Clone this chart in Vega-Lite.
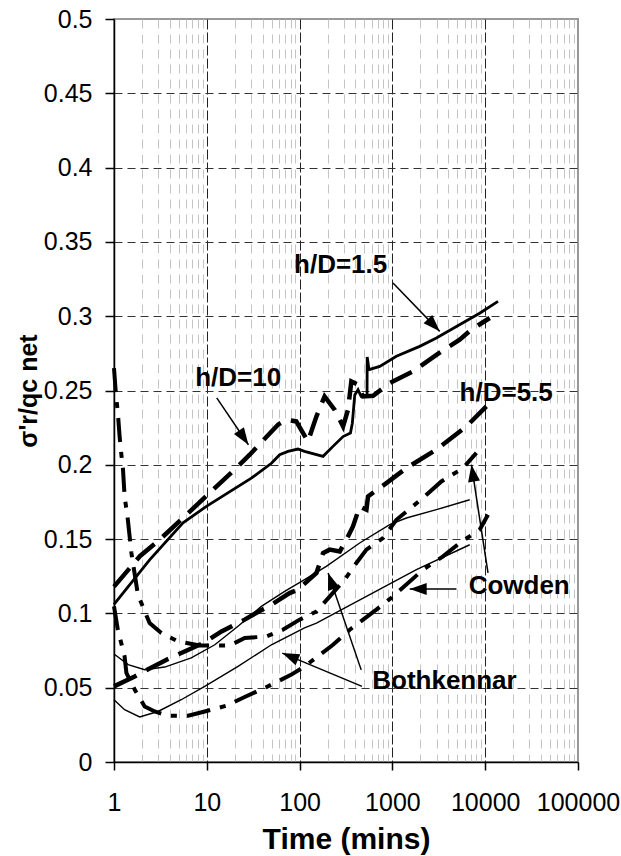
{
  "$schema": "https://vega.github.io/schema/vega-lite/v6.json",
  "width": 464,
  "height": 743,
  "autosize": {"type": "none"},
  "padding": {"left": 114, "top": 19, "right": 43, "bottom": 94},
  "background": "white",
  "config": {
    "font": "Liberation Sans",
    "view": {"stroke": "#999999", "strokeWidth": 2}
  },
  "datasets": {
    "curves": [
      {"s": "A", "t": 1, "v": 0.106}, {"s": "A", "t": 2.42, "v": 0.136}, {"s": "A", "t": 5.54, "v": 0.161}, {"s": "A", "t": 9.9, "v": 0.172},
      {"s": "A", "t": 30.2, "v": 0.191}, {"s": "A", "t": 49.7, "v": 0.201}, {"s": "A", "t": 61, "v": 0.2068}, {"s": "A", "t": 75, "v": 0.209},
      {"s": "A", "t": 96, "v": 0.2106}, {"s": "A", "t": 113, "v": 0.209}, {"s": "A", "t": 179, "v": 0.2057}, {"s": "A", "t": 229, "v": 0.2124},
      {"s": "A", "t": 294, "v": 0.219}, {"s": "A", "t": 353, "v": 0.2214}, {"s": "A", "t": 370, "v": 0.228}, {"s": "A", "t": 393, "v": 0.247},
      {"s": "A", "t": 426, "v": 0.2505}, {"s": "A", "t": 460, "v": 0.246}, {"s": "A", "t": 533, "v": 0.246}, {"s": "A", "t": 535, "v": 0.2725},
      {"s": "A", "t": 560, "v": 0.264}, {"s": "A", "t": 730, "v": 0.2662}, {"s": "A", "t": 1104, "v": 0.273}, {"s": "A", "t": 1968, "v": 0.2797},
      {"s": "A", "t": 2980, "v": 0.2853}, {"s": "A", "t": 4900, "v": 0.2931}, {"s": "A", "t": 8710, "v": 0.302}, {"s": "A", "t": 13740, "v": 0.31},

      {"s": "B", "t": 1, "v": 0.118}, {"s": "B", "t": 1.9, "v": 0.1385}, {"s": "B", "t": 3.1, "v": 0.1496}, {"s": "B", "t": 5.78, "v": 0.1653},
      {"s": "B", "t": 21.7, "v": 0.199}, {"s": "B", "t": 29, "v": 0.2068}, {"s": "B", "t": 58.5, "v": 0.227}, {"s": "B", "t": 72, "v": 0.2303},
      {"s": "B", "t": 92, "v": 0.2292}, {"s": "B", "t": 123, "v": 0.2157}, {"s": "B", "t": 152, "v": 0.2326}, {"s": "B", "t": 186, "v": 0.246},
      {"s": "B", "t": 239, "v": 0.237}, {"s": "B", "t": 294, "v": 0.2258}, {"s": "B", "t": 332, "v": 0.237}, {"s": "B", "t": 361, "v": 0.2561},
      {"s": "B", "t": 426, "v": 0.254}, {"s": "B", "t": 482, "v": 0.246}, {"s": "B", "t": 620, "v": 0.2465}, {"s": "B", "t": 935, "v": 0.255},
      {"s": "B", "t": 1667, "v": 0.2628}, {"s": "B", "t": 2980, "v": 0.274}, {"s": "B", "t": 5310, "v": 0.2842}, {"s": "B", "t": 7100, "v": 0.291},
      {"s": "B", "t": 11190, "v": 0.2988},

      {"s": "C", "t": 1, "v": 0.0509}, {"s": "C", "t": 1.67, "v": 0.0576}, {"s": "C", "t": 3.82, "v": 0.0693}, {"s": "C", "t": 9.5, "v": 0.0805},
      {"s": "C", "t": 14.4, "v": 0.0879}, {"s": "C", "t": 25.6, "v": 0.0958}, {"s": "C", "t": 34, "v": 0.1003}, {"s": "C", "t": 49.7, "v": 0.1059},
      {"s": "C", "t": 78, "v": 0.1137}, {"s": "C", "t": 96, "v": 0.116}, {"s": "C", "t": 152, "v": 0.1272}, {"s": "C", "t": 179, "v": 0.1406},
      {"s": "C", "t": 211, "v": 0.1429}, {"s": "C", "t": 271, "v": 0.1417}, {"s": "C", "t": 319, "v": 0.1496}, {"s": "C", "t": 376, "v": 0.1585},
      {"s": "C", "t": 444, "v": 0.172}, {"s": "C", "t": 525, "v": 0.1698}, {"s": "C", "t": 546, "v": 0.1787}, {"s": "C", "t": 861, "v": 0.1877},
      {"s": "C", "t": 1415, "v": 0.1978}, {"s": "C", "t": 2980, "v": 0.2102}, {"s": "C", "t": 6270, "v": 0.2258}, {"s": "C", "t": 10300, "v": 0.2393},

      {"s": "D", "t": 1, "v": 0.265}, {"s": "D", "t": 1.05, "v": 0.247}, {"s": "D", "t": 1.1, "v": 0.235}, {"s": "D", "t": 1.15, "v": 0.219},
      {"s": "D", "t": 1.2, "v": 0.207}, {"s": "D", "t": 1.25, "v": 0.197}, {"s": "D", "t": 1.3, "v": 0.179}, {"s": "D", "t": 1.41, "v": 0.163},
      {"s": "D", "t": 1.54, "v": 0.1406}, {"s": "D", "t": 1.81, "v": 0.1126}, {"s": "D", "t": 2.42, "v": 0.0935}, {"s": "D", "t": 3.24, "v": 0.0868},
      {"s": "D", "t": 4.9, "v": 0.0812}, {"s": "D", "t": 8.4, "v": 0.0784}, {"s": "D", "t": 17.7, "v": 0.0784}, {"s": "D", "t": 25.6, "v": 0.0834},
      {"s": "D", "t": 43.9, "v": 0.0845}, {"s": "D", "t": 66, "v": 0.089}, {"s": "D", "t": 100, "v": 0.0958}, {"s": "D", "t": 152, "v": 0.1013},
      {"s": "D", "t": 306, "v": 0.1227}, {"s": "D", "t": 409, "v": 0.1339}, {"s": "D", "t": 525, "v": 0.1429}, {"s": "D", "t": 792, "v": 0.1507},
      {"s": "D", "t": 1104, "v": 0.163}, {"s": "D", "t": 2137, "v": 0.1777}, {"s": "D", "t": 3370, "v": 0.1888}, {"s": "D", "t": 5770, "v": 0.1978},
      {"s": "D", "t": 8040, "v": 0.208},

      {"s": "E", "t": 1, "v": 0.0727}, {"s": "E", "t": 1.42, "v": 0.0655}, {"s": "E", "t": 2.14, "v": 0.0621}, {"s": "E", "t": 3.52, "v": 0.0639},
      {"s": "E", "t": 6.8, "v": 0.07}, {"s": "E", "t": 12.2, "v": 0.0789}, {"s": "E", "t": 21.7, "v": 0.0913}, {"s": "E", "t": 38.7, "v": 0.1047},
      {"s": "E", "t": 69, "v": 0.1148}, {"s": "E", "t": 113, "v": 0.1227}, {"s": "E", "t": 194, "v": 0.1316}, {"s": "E", "t": 444, "v": 0.1474},
      {"s": "E", "t": 935, "v": 0.1597}, {"s": "E", "t": 1415, "v": 0.1642}, {"s": "E", "t": 2980, "v": 0.1698}, {"s": "E", "t": 6810, "v": 0.1765},

      {"s": "F", "t": 1, "v": 0.0419}, {"s": "F", "t": 1.3, "v": 0.0352}, {"s": "F", "t": 1.89, "v": 0.0303}, {"s": "F", "t": 2.98, "v": 0.034},
      {"s": "F", "t": 5.3, "v": 0.0419}, {"s": "F", "t": 9.5, "v": 0.0509}, {"s": "F", "t": 21.7, "v": 0.0643}, {"s": "F", "t": 49.7, "v": 0.0789},
      {"s": "F", "t": 113, "v": 0.0902}, {"s": "F", "t": 152, "v": 0.0935}, {"s": "F", "t": 525, "v": 0.1114}, {"s": "F", "t": 1815, "v": 0.1294},
      {"s": "F", "t": 6810, "v": 0.1462},

      {"s": "G", "t": 1, "v": 0.1047}, {"s": "G", "t": 1.1, "v": 0.089}, {"s": "G", "t": 1.3, "v": 0.0711}, {"s": "G", "t": 1.36, "v": 0.06},
      {"s": "G", "t": 1.67, "v": 0.0487}, {"s": "G", "t": 2.14, "v": 0.0374}, {"s": "G", "t": 2.75, "v": 0.034}, {"s": "G", "t": 3.8, "v": 0.0312},
      {"s": "G", "t": 6.3, "v": 0.0312}, {"s": "G", "t": 9.5, "v": 0.034}, {"s": "G", "t": 16.3, "v": 0.0379}, {"s": "G", "t": 25.6, "v": 0.0437},
      {"s": "G", "t": 42, "v": 0.0498}, {"s": "G", "t": 81.6, "v": 0.0588}, {"s": "G", "t": 113, "v": 0.0643}, {"s": "G", "t": 229, "v": 0.0789},
      {"s": "G", "t": 347, "v": 0.089}, {"s": "G", "t": 672, "v": 0.1025}, {"s": "G", "t": 1015, "v": 0.1114}, {"s": "G", "t": 2137, "v": 0.1294},
      {"s": "G", "t": 3510, "v": 0.1384}, {"s": "G", "t": 5310, "v": 0.1474}, {"s": "G", "t": 8710, "v": 0.1563}, {"s": "G", "t": 10720, "v": 0.1664}
    ],
    "labels": [
      {"label": "h/D=1.5", "t": 277, "v": 0.3347},
      {"label": "h/D=10", "t": 21.8, "v": 0.2586},
      {"label": "h/D=5.5", "t": 16830, "v": 0.2485},
      {"label": "Cowden", "t": 23240, "v": 0.1187},
      {"label": "Bothkennar", "t": 3640, "v": 0.0542}
    ],
    "arrows": [
      {"t": 1015, "v": 0.3223, "t2": 3234, "v2": 0.2898},
      {"t": 12.8, "v": 0.245, "t2": 28.1, "v2": 0.2135},
      {"t": 10720, "v": 0.1272, "t2": 7100, "v2": 0.2001},
      {"t": 4898, "v": 0.1164, "t2": 1536, "v2": 0.1164},
      {"t": 470, "v": 0.0509, "t2": 65.1, "v2": 0.0733},
      {"t": 461, "v": 0.062, "t2": 202.9, "v2": 0.1272}
    ],
    "heads": [
      {"t": 3234, "v": 0.2898, "ang": 136},
      {"t": 28.1, "v": 0.2135, "ang": 146},
      {"t": 7100, "v": 0.2001, "ang": -9},
      {"t": 1536, "v": 0.1164, "ang": -90},
      {"t": 65.1, "v": 0.0733, "ang": -67},
      {"t": 202.9, "v": 0.1272, "ang": -19}
    ]
  },
  "encoding": {
    "x": {
      "field": "t",
      "type": "quantitative",
      "scale": {"type": "log", "domain": [1, 100000], "nice": false},
      "axis": {
        "title": "Time (mins)",
        "titleFontSize": 30,
        "titleFontWeight": "bold",
        "titleColor": "black",
        "titlePadding": 9,
        "values": [1, 2, 3, 4, 5, 6, 7, 8, 9, 10, 20, 30, 40, 50, 60, 70, 80, 90, 100, 200, 300, 400, 500, 600, 700, 800, 900, 1000, 2000, 3000, 4000, 5000, 6000, 7000, 8000, 9000, 10000, 20000, 30000, 40000, 50000, 60000, 70000, 80000, 90000, 100000],
        "labelExpr": "indexof([1,10,100,1000,10000,100000], datum.value) >= 0 ? format(datum.value, 'd') : ''",
        "labelFontSize": 25,
        "labelColor": "black",
        "labelPadding": 20,
        "labelOverlap": false,
        "labelFlush": false,
        "labelBound": false,
        "tickSize": {"condition": {"test": "indexof([1,10,100,1000,10000,100000], datum.value) >= 0", "value": 8}, "value": 0},
        "tickColor": "black",
        "tickWidth": 1.5,
        "domainColor": "black",
        "domainWidth": 1.5,
        "grid": true,
        "gridColor": {"condition": {"test": "indexof([1,10,100,1000,10000,100000], datum.value) >= 0", "value": "#222222"}, "value": "#c4c4c4"},
        "gridDash": {"condition": {"test": "indexof([1,10,100,1000,10000,100000], datum.value) >= 0", "value": [10, 3]}, "value": [9, 6]},
        "gridOpacity": {"condition": {"test": "datum.value == 1 || datum.value == 100000", "value": 0}, "value": 1},
        "gridWidth": 1
      }
    },
    "y": {
      "field": "v",
      "type": "quantitative",
      "scale": {"domain": [0, 0.5], "nice": false, "zero": true},
      "axis": {
        "title": "σ'r/qc net",
        "titleFontSize": 25,
        "titleFontWeight": "bold",
        "titleColor": "black",
        "titlePadding": 2,
        "values": [0, 0.05, 0.1, 0.15, 0.2, 0.25, 0.3, 0.35, 0.4, 0.45, 0.5],
        "format": "~g",
        "labelFontSize": 25,
        "labelColor": "black",
        "labelPadding": 13,
        "labelFlush": false,
        "labelBound": false,
        "labelOverlap": false,
        "tickSize": 9,
        "tickColor": "black",
        "tickWidth": 1.5,
        "domainColor": "black",
        "domainWidth": 1.5,
        "grid": true,
        "gridColor": "#333333",
        "gridDash": [8, 5],
        "gridWidth": 1,
        "gridOpacity": {"condition": {"test": "datum.value == 0 || datum.value == 0.5", "value": 0}, "value": 1}
      }
    }
  },
  "layer": [
    {
      "data": {"name": "curves"},
      "transform": [{"filter": "datum.s == 'E'"}],
      "mark": {"type": "line", "color": "black", "strokeWidth": 1.4}
    },
    {
      "data": {"name": "curves"},
      "transform": [{"filter": "datum.s == 'F'"}],
      "mark": {"type": "line", "color": "black", "strokeWidth": 1.4}
    },
    {
      "data": {"name": "curves"},
      "transform": [{"filter": "datum.s == 'A'"}],
      "mark": {"type": "line", "color": "black", "strokeWidth": 2.8}
    },
    {
      "data": {"name": "curves"},
      "transform": [{"filter": "datum.s == 'B'"}],
      "mark": {"type": "line", "color": "black", "strokeWidth": 4.5, "strokeDash": [24, 11]}
    },
    {
      "data": {"name": "curves"},
      "transform": [{"filter": "datum.s == 'C'"}],
      "mark": {"type": "line", "color": "black", "strokeWidth": 4.5, "strokeDash": [25, 11]}
    },
    {
      "data": {"name": "curves"},
      "transform": [{"filter": "datum.s == 'D'"}],
      "mark": {"type": "line", "color": "black", "strokeWidth": 4, "strokeDash": [24, 10, 6, 10]}
    },
    {
      "data": {"name": "curves"},
      "transform": [{"filter": "datum.s == 'G'"}],
      "mark": {"type": "line", "color": "black", "strokeWidth": 4, "strokeDash": [24, 10, 6, 10]}
    },
    {
      "data": {"name": "arrows"},
      "mark": {"type": "rule", "color": "black", "strokeWidth": 1.5},
      "encoding": {
        "x2": {"field": "t2"},
        "y2": {"field": "v2"}
      }
    },
    {
      "data": {"name": "heads"},
      "mark": {"type": "point", "shape": "M0,0L-0.6,1.7L0.6,1.7Z", "filled": true, "color": "black", "opacity": 1, "size": 400, "strokeWidth": 0},
      "encoding": {
        "angle": {"field": "ang", "type": "quantitative", "scale": null}
      }
    },
    {
      "data": {"name": "labels"},
      "mark": {"type": "text", "fontSize": 26, "fontWeight": "bold", "color": "black", "align": "center", "baseline": "middle"},
      "encoding": {
        "text": {"field": "label", "type": "nominal"}
      }
    }
  ]
}
